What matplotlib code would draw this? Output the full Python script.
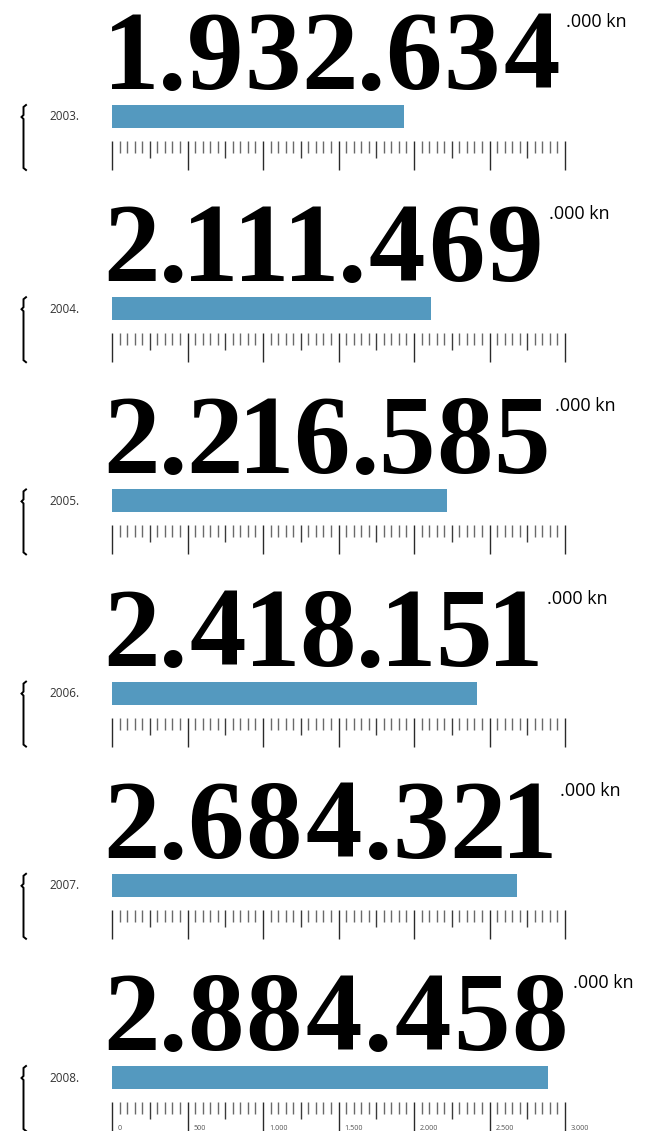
import matplotlib
matplotlib.use("Agg")
import matplotlib.pyplot as plt
import numpy as np
from matplotlib.textpath import TextPath
from matplotlib.font_manager import FontProperties

years = ["2003.", "2004.", "2005.", "2006.", "2007.", "2008."]
values = [1932.634, 2111.469, 2216.585, 2418.151, 2684.321, 2884.458]  # millions kn
axis_ticks = [0, 500, 1000, 1500, 2000, 2500, 3000]
axis_labels = ["0", "500", "1.000", "1.500", "2.000", "2.500", "3.000"]
unit_label = ".000 kn"

W, H = 652, 1131
DPI = 100
fig = plt.figure(figsize=(W / DPI, H / DPI), dpi=DPI)
fig.patch.set_facecolor("white")

ov = fig.add_axes([0, 0, 1, 1])
ov.set_xlim(0, W)
ov.set_ylim(H, 0)
ov.axis("off")

BAR_COLOR = "#5499bf"
PERIOD = 192.2
X0, X1 = 112, 565

EM_PX = 113.0
NUM_FS = EM_PX * 72 / DPI
num_prop = FontProperties(family="Liberation Serif", weight="bold")
GAP = 9.0


def ink_extent(ch):
    tp = TextPath((0, 0), ch, size=EM_PX, prop=num_prop)
    ext = tp.get_extents()
    return ext.x0, ext.x1


for i, (yr, v) in enumerate(zip(years, values)):
    P = i * PERIOD
    ax = fig.add_axes([X0 / W, 1 - (P + 175) / H, (X1 - X0) / W, 75 / H])
    ax.set_xlim(0, 3000)
    ax.set_ylim(75, 0)
    ax.axis("off")
    ax.barh(16.5, v, height=23, color=BAR_COLOR, left=0)
    minor = np.arange(0, 3001, 50)
    for t in minor:
        if t % 500 == 0:
            y2, c = 70, "#2a2a2a"
        elif t % 250 == 0:
            y2, c = 58, "#3a3a3a"
        else:
            y2, c = 53, "#6a6a6a"
        ax.vlines(t, 41, y2, color=c, linewidth=1.0, clip_on=False)
    if i == len(years) - 1:
        for t, lab in zip(axis_ticks, axis_labels):
            ax.annotate(lab, xy=(t, 67), xycoords="data", xytext=(6, 0),
                        textcoords="offset pixels", fontsize=5.2, color="#555555",
                        ha="left", va="center", family="Open Sans",
                        annotation_clip=False)

    # big number, character by character with proportional (ink-based) spacing
    s = f"{int(round(v * 1000)):,}".replace(",", ".")
    base_y = P + 89
    x = None
    for ch in s:
        ix0, ix1 = ink_extent(ch)
        if x is None:
            x = 103.0 + ix0
        ov.text(x - ix0, base_y, ch, fontsize=NUM_FS, fontweight="bold",
                family="Liberation Serif", color="black", ha="left", va="baseline")
        x += (ix1 - ix0) + GAP
    right_px = x - GAP
    ov.text(right_px + 9, base_y - 62, unit_label, fontsize=13, family="Open Sans",
            color="black", ha="left", va="baseline")

    # year label
    ov.text(49, P + 117, yr, fontsize=8.5, family="Open Sans", color="#333333",
            ha="left", va="center")

    # bracket
    bx = [26, 23.5, 23.5, 21.5, 23.5, 23.5, 26]
    by = [P + 105, P + 107, P + 115, P + 117, P + 119, P + 168, P + 170]
    ov.plot(bx, by, color="black", linewidth=1.4, solid_joinstyle="miter")

fig.savefig("out.png", dpi=DPI, facecolor="white")
